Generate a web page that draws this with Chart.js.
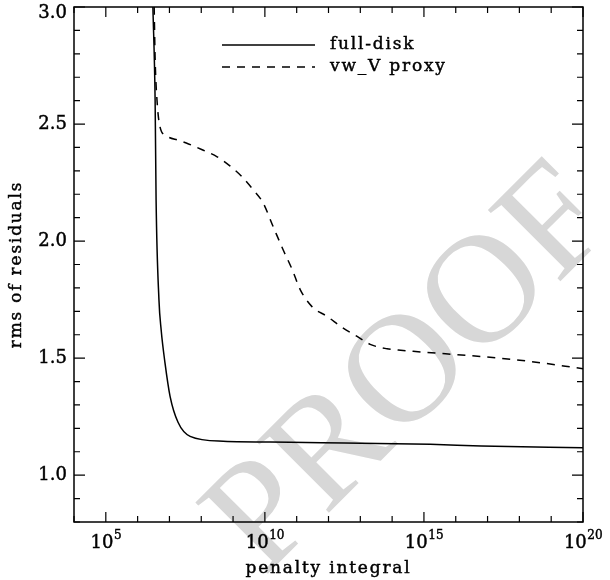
<!DOCTYPE html>
<html>
<head>
<meta charset="utf-8">
<script src="https://cdn.jsdelivr.net/npm/chart.js@4.4.1/dist/chart.umd.min.js"></script>
<style>
  body { margin: 0; background: #fff; }
</style>
</head>
<body>
<canvas id="rmsChart" width="610" height="580"></canvas>
<script>
// penalty integral given as log10 exponent
const fullDiskExp = [6.48, 6.55, 6.58, 6.67, 6.74, 6.86, 7.02, 7.27, 7.65, 8.69, 10.79, 12.5, 15.2, 16.8, 20.0];
const fullDiskRms = [3.00, 2.60, 2.18, 1.75, 1.62, 1.48, 1.337, 1.226, 1.166, 1.145, 1.141, 1.137, 1.132, 1.125, 1.117];

const proxyExp = [6.52, 6.55, 6.61, 6.70, 6.90, 7.30, 7.60, 8.03, 8.50, 8.91, 9.28, 9.63, 9.94, 10.26, 10.57, 10.86, 11.11, 11.48, 11.96, 12.43, 12.90, 13.31, 13.84, 14.19, 14.66, 16.77, 18.34, 20.0];
const proxyRms = [3.00, 2.78, 2.60, 2.49, 2.45, 2.43, 2.415, 2.39, 2.36, 2.32, 2.275, 2.22, 2.164, 2.062, 1.964, 1.878, 1.793, 1.72, 1.678, 1.631, 1.593, 1.559, 1.54, 1.535, 1.529, 1.507, 1.486, 1.455];

const seriesNames = ['full-disk', 'vw_V proxy'];
const xTitle = 'penalty integral';
const yTitle = 'rms of residuals';

// decade ticks on x, labelled every 5 decades
const xTickExp = [4, 5, 6, 7, 8, 9, 10, 11, 12, 13, 14, 15, 16, 17, 18, 19, 20];
const xLabelExp = [5, 10, 15, 20];
const yTicks = [0.8, 0.9, 1.0, 1.1, 1.2, 1.3, 1.4, 1.5, 1.6, 1.7, 1.8, 1.9, 2.0, 2.1, 2.2, 2.3, 2.4, 2.5, 2.6, 2.7, 2.8, 2.9, 3.0];
const yLabels = [1.0, 1.5, 2.0, 2.5, 3.0];

const FONT = "'DejaVu Serif', serif";
const isLabelled = v => yLabels.some(l => Math.abs(l - v) < 1e-6);

function points(exps, vals) {
  return exps.map((e, i) => ({ x: Math.pow(10, e), y: vals[i] }));
}

// text a bit heavier than the plain book weight
function heavyText(ctx, s, x, y) {
  ctx.fillText(s, x, y);
  ctx.strokeText(s, x, y);
}

// light "PROOF" stamp behind the curves
const watermark = {
  id: 'watermark',
  beforeDatasetsDraw(chart) {
    const ctx = chart.ctx;
    ctx.save();
    ctx.translate(412, 372);
    ctx.rotate(-Math.PI / 4);
    ctx.fillStyle = '#d7d7d7';
    ctx.font = "155px 'Liberation Serif', serif";
    ctx.textAlign = 'center';
    ctx.textBaseline = 'middle';
    ctx.fillText('PROOF', 0, 0);
    ctx.restore();
  }
};

// frame with inward ticks on all sides, tick labels, titles, legend
const frameTicks = {
  id: 'frameTicks',
  afterDraw(chart) {
    const { ctx, chartArea: a, scales: { x, y } } = chart;
    ctx.save();
    ctx.strokeStyle = '#000';
    ctx.lineWidth = 1.5;
    ctx.strokeRect(a.left, a.top, a.right - a.left, a.bottom - a.top);
    ctx.lineWidth = 1.2;
    ctx.beginPath();
    xTickExp.forEach(e => {
      const px = x.getPixelForValue(Math.pow(10, e));
      const len = xLabelExp.includes(e) ? 10 : 6;
      ctx.moveTo(px, a.bottom); ctx.lineTo(px, a.bottom - len);
      ctx.moveTo(px, a.top); ctx.lineTo(px, a.top + len);
    });
    yTicks.forEach(v => {
      const py = y.getPixelForValue(v);
      const len = isLabelled(v) ? 11 : 6;
      ctx.moveTo(a.left, py); ctx.lineTo(a.left + len, py);
      ctx.moveTo(a.right, py); ctx.lineTo(a.right - len, py);
    });
    ctx.stroke();

    ctx.fillStyle = '#000';
    ctx.lineWidth = 0.45;

    // y labels
    ctx.font = "18px " + FONT;
    ctx.textAlign = 'right';
    ctx.textBaseline = 'middle';
    yLabels.forEach(v => {
      const py = Math.max(y.getPixelForValue(v), a.top + 6);
      heavyText(ctx, v.toFixed(1), a.left - 7, py);
    });

    // 10^n labels
    ctx.textAlign = 'left';
    ctx.textBaseline = 'alphabetic';
    xLabelExp.forEach(e => {
      const px = x.getPixelForValue(Math.pow(10, e));
      ctx.font = "18px " + FONT;
      const wBase = ctx.measureText('10').width;
      ctx.font = "12px " + FONT;
      const wExp = ctx.measureText(String(e)).width;
      const x0 = px - (wBase + wExp) / 2;
      ctx.font = "18px " + FONT;
      heavyText(ctx, '10', x0, a.bottom + 26);
      ctx.font = "12px " + FONT;
      heavyText(ctx, String(e), x0 + wBase + 0.5, a.bottom + 17);
    });

    // axis titles, letter-spaced like the original
    ctx.font = "17px " + FONT;
    if ('letterSpacing' in ctx) ctx.letterSpacing = '1.8px';
    ctx.textAlign = 'center';
    ctx.textBaseline = 'middle';
    heavyText(ctx, xTitle, (a.left + a.right) / 2, 569);
    ctx.save();
    ctx.translate(17, (a.top + a.bottom) / 2);
    ctx.rotate(-Math.PI / 2);
    heavyText(ctx, yTitle, 0, 0);
    ctx.restore();

    // legend
    chart.data.datasets.forEach((ds, i) => {
      const ly = 45 + i * 22;
      ctx.beginPath();
      ctx.lineWidth = 1.5;
      ctx.setLineDash(ds.borderDash || []);
      ctx.moveTo(222, ly);
      ctx.lineTo(315, ly);
      ctx.stroke();
      ctx.setLineDash([]);
      ctx.lineWidth = 0.45;
      ctx.textAlign = 'left';
      ctx.textBaseline = 'middle';
      heavyText(ctx, ds.label, 330, ly);
    });
    ctx.restore();
  }
};

const ctx = document.getElementById('rmsChart');
const rmsChart = new Chart(ctx, {
  type: 'line',
  data: {
    datasets: [{
      label: seriesNames[0],
      data: points(fullDiskExp, fullDiskRms),
      borderColor: '#000',
      borderWidth: 1.5,
      pointRadius: 0,
      fill: false,
      cubicInterpolationMode: 'monotone'
    }, {
      label: seriesNames[1],
      data: points(proxyExp, proxyRms),
      borderColor: '#000',
      borderWidth: 1.5,
      borderDash: [8, 7],
      pointRadius: 0,
      fill: false,
      cubicInterpolationMode: 'monotone'
    }]
  },
  options: {
    responsive: false,
    animation: false,
    layout: { padding: { top: 7, right: 27, left: 0, bottom: 0 } },
    plugins: {
      legend: { display: false },
      tooltip: { enabled: false }
    },
    scales: {
      x: {
        type: 'logarithmic',
        min: 1e4,
        max: 1e20,
        grid: { display: false, drawTicks: false },
        border: { display: false },
        afterBuildTicks: scale => {
          scale.ticks = xTickExp.map(e => ({ value: Math.pow(10, e) }));
        },
        afterFit: scale => { scale.height = 58; },
        ticks: { display: false }
      },
      y: {
        type: 'linear',
        min: 0.8,
        max: 3.0,
        grid: { display: false, drawTicks: false },
        border: { display: false },
        afterBuildTicks: scale => {
          scale.ticks = yTicks.map(v => ({ value: v }));
        },
        afterFit: scale => { scale.width = 74; },
        ticks: { display: false }
      }
    }
  },
  plugins: [watermark, frameTicks]
});
</script>
</body>
</html>
